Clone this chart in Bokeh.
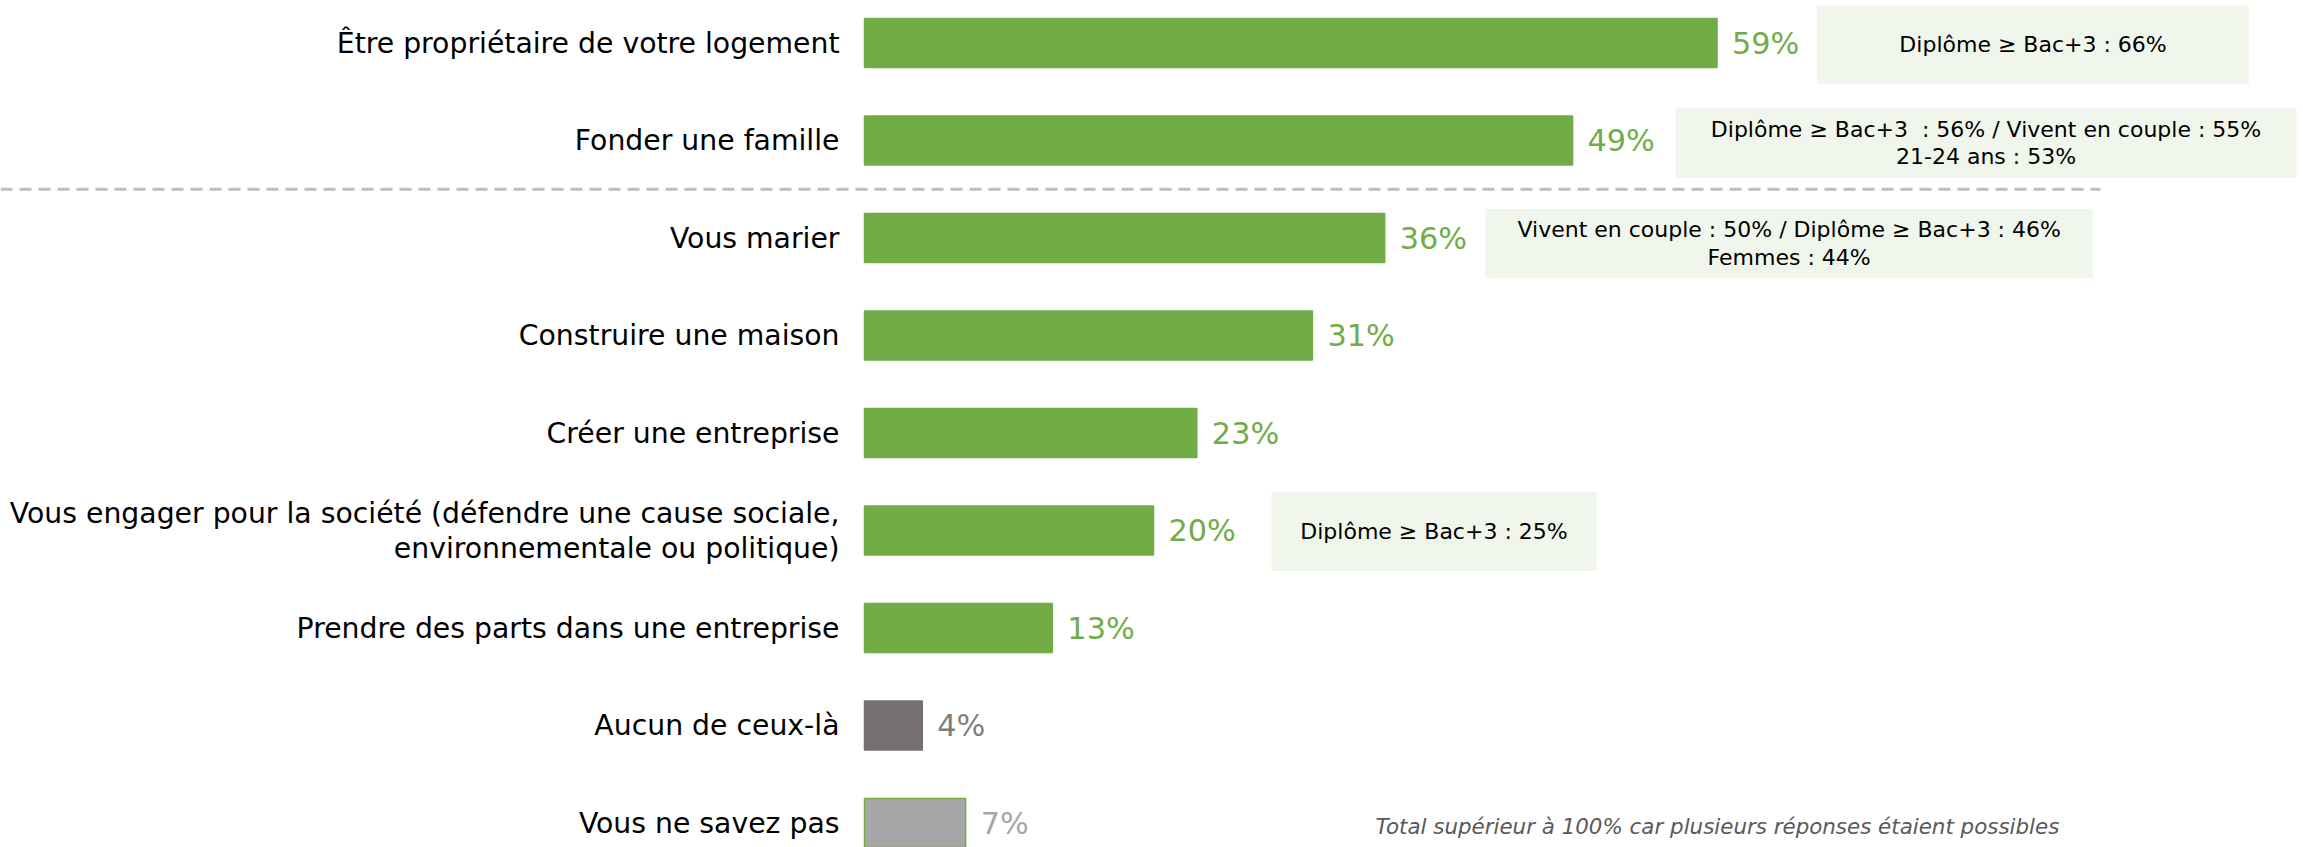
from bokeh.plotting import figure
from bokeh.models import Range1d, Label, ColumnDataSource
from bokeh.embed import file_html
from bokeh.resources import INLINE
from bokeh.core.properties import value

# ---------------- data ----------------
categories = [
    "Être propriétaire de votre logement",
    "Fonder une famille",
    "Vous marier",
    "Construire une maison",
    "Créer une entreprise",
    "Vous engager pour la société (défendre une cause sociale,\nenvironnementale ou politique)",
    "Prendre des parts dans une entreprise",
    "Aucun de ceux-là",
    "Vous ne savez pas",
]
values = [59, 49, 36, 31, 23, 20, 13, 4, 7]
value_labels = ["59%", "49%", "36%", "31%", "23%", "20%", "13%", "4%", "7%"]

ann_rows = [0, 1, 2, 5]
ann_texts = [
    "Diplôme ≥ Bac+3 : 66%",
    "Diplôme ≥ Bac+3\u00a0 : 56% / Vivent en couple : 55%\n21-24 ans : 53%",
    "Vivent en couple : 50% / Diplôme ≥ Bac+3 : 46%\nFemmes : 44%",
    "Diplôme ≥ Bac+3 : 25%",
]
footnote = "Total supérieur à 100% car plusieurs réponses étaient possibles"

# ---------------- styles / layout ----------------
GREEN = "#70AD47"
bar_fill = [GREEN] * 7 + ["#767171", "#A6A6A6"]
bar_line = [GREEN] * 7 + ["#767171", GREEN]
label_colors = [GREEN] * 7 + ["#7F7F7F", "#A6A6A6"]
BOX_FILL = "#F1F6EC"

W, H = 2303, 847
PX_PER_PCT = 14.45
X0_PX = 864.0
ROW_PX = 97.5
ROW0_PX = 42.6

x_start = -X0_PX / PX_PER_PCT
x_end = x_start + W / PX_PER_PCT
y_top = -ROW0_PX / ROW_PX
y_bottom = y_top + H / ROW_PX

def px(n):
    return n / PX_PER_PCT

def py(n):
    return n / ROW_PX

p = figure(width=W, height=H, output_backend="svg", toolbar_location=None,
           x_range=Range1d(x_start, x_end), y_range=Range1d(y_bottom, y_top),
           x_axis_location=None, y_axis_location=None, min_border=0)
p.outline_line_color = None
p.xgrid.visible = False
p.ygrid.visible = False
p.background_fill_color = "white"
p.border_fill_color = "white"

rows = list(range(len(categories)))

src = ColumnDataSource(dict(
    y=rows, right=values, fill=bar_fill, line=bar_line,
    lab=value_labels, lab_color=label_colors,
    lab_x=[v + px(15) for v in values], cat=categories,
))

# separator line between the two groups
p.segment(x0=[x_start], x1=[px(2100 - X0_PX)], y0=[1.5], y1=[1.5],
          line_color="#BFBFBF", line_width=3, line_dash="12 7")

p.hbar(y="y", left=0, right="right", height=py(49), fill_color="fill",
       line_color="line", line_width=1.5, source=src)

# value labels
p.text(x="lab_x", y="y", text="lab", text_color="lab_color",
       text_font=value("DejaVu Sans"), text_font_size="30.3px",
       text_baseline="middle", text_align="left", source=src)

# category labels
p.text(x=[px(839 - X0_PX)] * len(categories), y=rows, text=categories,
       text_color="#000000", text_font=value("DejaVu Sans"),
       text_font_size="28.3px", text_baseline="middle", text_align="right",
       text_line_height=1.06)

# annotation boxes
box_gap_px = [100, 103, 101, 118]
box_w_px = [432, 621, 607, 325]
box_h_px = [78, 70, 69, 79]
box_dy_px = [1.5, 2.5, 5.5, 1.0]
bl, br, bt, bb, tx, ty = [], [], [], [], [], []
for r, g, w, h, d in zip(ann_rows, box_gap_px, box_w_px, box_h_px, box_dy_px):
    left = values[r] + px(g)
    bl.append(left)
    br.append(left + px(w))
    c = r + py(d)
    bt.append(c - py(h) / 2)
    bb.append(c + py(h) / 2)
    tx.append(left + px(w) / 2)
    ty.append(c)
p.quad(left=bl, right=br, top=bt, bottom=bb, fill_color=BOX_FILL, line_color=None)
p.text(x=tx, y=ty, text=ann_texts, text_color="#000000",
       text_font=value("DejaVu Sans"), text_font_size="22px",
       text_baseline="middle", text_align="center", text_line_height=1.09)

# footnote
p.add_layout(Label(x=1375, y=21.5, x_units="screen", y_units="screen",
                   text=footnote, text_font="DejaVu Sans", text_font_style="italic",
                   text_font_size="21.4px", text_color="#595959",
                   text_baseline="middle", text_align="left"))

open("out.html", "w").write(file_html(p, INLINE))
